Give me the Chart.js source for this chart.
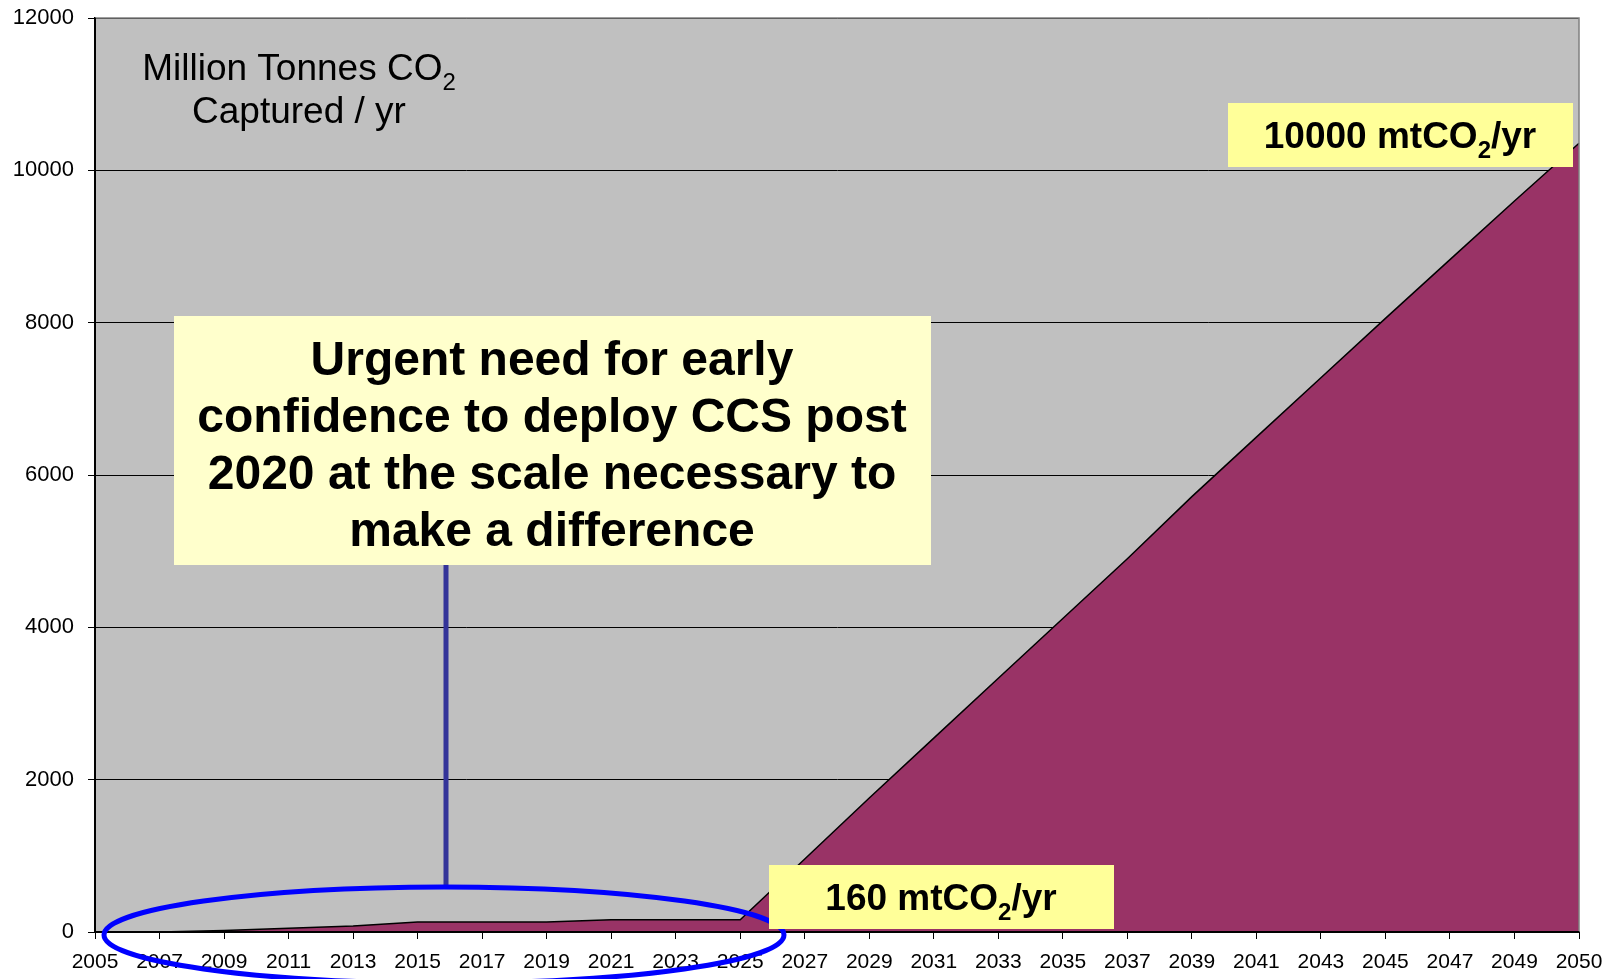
<!DOCTYPE html>
<html><head><meta charset="utf-8">
<script src="https://cdn.jsdelivr.net/npm/chart.js@4"></script>
<style>html,body{margin:0;padding:0;background:#fff;}canvas{display:block;}</style>
</head><body>
<canvas id="c" width="1608" height="979"></canvas>
<script>
// ---- data ----
const years = ['2005','2007','2009','2011','2013','2015','2017','2019','2021','2023','2025',
  '2027','2029','2031','2033','2035','2037','2039','2041','2043','2045','2047','2049','2050'];
const captured = [0,0,20,50,80,130,130,130,160,160,160,
  958,1759,2546,3331,4115,4900,5716,6497,7277,8056,8827,9597,10355];
const yMin = 0, yMax = 12000, yStep = 2000;
const unitTitleLine1 = ['Million Tonnes CO', '2'];
const unitTitleLine2 = 'Captured / yr';
const calloutLines = ['Urgent need for early', 'confidence to deploy CCS post', '2020 at the scale necessary to', 'make a difference'];
const endLabel = ['10000 mtCO', '2', '/yr'];
const startLabel = ['160 mtCO', '2', '/yr'];

const FONT = "'Liberation Sans', Arial, Helvetica, sans-serif";

function drawRich(ctx, parts, cx, baseY){
  let w = 0;
  parts.forEach(p => { ctx.font = p.font; p.w = ctx.measureText(p.t).width; w += p.w; });
  let x = cx - w/2;
  ctx.textAlign = 'left'; ctx.textBaseline = 'alphabetic';
  parts.forEach(p => { ctx.font = p.font; ctx.fillText(p.t, x, baseY + (p.dy||0)); x += p.w; });
}

const bgPlugin = {
  id: 'bg',
  beforeDraw(chart){
    const {ctx, chartArea:a} = chart;
    ctx.save();
    ctx.fillStyle = '#C0C0C0';
    ctx.fillRect(a.left, a.top, a.right - a.left, a.bottom - a.top);
    ctx.restore();
  },
  afterDatasetsDraw(chart){
    const {ctx, chartArea:a} = chart;
    ctx.save();
    ctx.strokeStyle = '#808080'; ctx.lineWidth = 1.5;
    ctx.beginPath();
    ctx.moveTo(a.left, a.top); ctx.lineTo(a.right, a.top); ctx.lineTo(a.right, a.bottom);
    ctx.stroke();
    ctx.strokeStyle = '#000'; ctx.lineWidth = 2;
    ctx.beginPath();
    ctx.moveTo(a.left, a.top); ctx.lineTo(a.left, a.bottom); ctx.lineTo(a.right, a.bottom);
    ctx.stroke();
    ctx.restore();
  }
};

const overlayPlugin = {
  id: 'overlay',
  afterDraw(chart){
    const ctx = chart.ctx;
    ctx.save();
    ctx.fillStyle = '#000';
    // unit title
    drawRich(ctx, [
      {t: unitTitleLine1[0], font: '37px ' + FONT},
      {t: unitTitleLine1[1], font: '24px ' + FONT, dy: 10}
    ], 299, 80);
    drawRich(ctx, [{t: unitTitleLine2, font: '37px ' + FONT}], 299, 123);

    // connector
    ctx.strokeStyle = '#333399'; ctx.lineWidth = 5;
    ctx.beginPath(); ctx.moveTo(446, 560); ctx.lineTo(446, 888); ctx.stroke();

    // callout box
    ctx.fillStyle = '#FFFFCC';
    ctx.fillRect(174, 316, 757, 249);
    ctx.fillStyle = '#000';
    const base = [375, 432, 489, 546];
    calloutLines.forEach((l, i) => drawRich(ctx, [{t: l, font: 'bold 48px ' + FONT}], 552, base[i]));

    // ellipse
    ctx.strokeStyle = '#0000FF'; ctx.lineWidth = 5;
    ctx.beginPath(); ctx.ellipse(444, 935, 340, 48, 0, 0, Math.PI*2); ctx.stroke();

    // value boxes
    ctx.fillStyle = '#FFFF99';
    ctx.fillRect(1228, 103, 345, 64);
    ctx.fillRect(769, 865, 345, 64);
    ctx.fillStyle = '#000';
    const mk = (arr) => [
      {t: arr[0], font: 'bold 37px ' + FONT},
      {t: arr[1], font: 'bold 24px ' + FONT, dy: 10},
      {t: arr[2], font: 'bold 37px ' + FONT}
    ];
    drawRich(ctx, mk(endLabel), 1400, 148);
    drawRich(ctx, mk(startLabel), 941, 910);
    ctx.restore();
  }
};

new Chart(document.getElementById('c'), {
  type: 'line',
  data: {
    labels: years,
    datasets: [{
      data: captured,
      fill: 'origin',
      backgroundColor: '#993366',
      borderColor: '#000',
      borderWidth: 1.5,
      tension: 0,
      pointRadius: 0,
      pointHoverRadius: 0
    }]
  },
  options: {
    responsive: false,
    animation: false,
    devicePixelRatio: 1,
    events: [],
    layout: {padding: {left: 0, right: 29, top: 18, bottom: 0}},
    plugins: {legend: {display: false}, tooltip: {enabled: false}, title: {display: false}},
    scales: {
      x: {
        type: 'category',
        offset: false,
        grid: {display: true, drawOnChartArea: false, drawTicks: true, tickLength: 7, color: '#000', lineWidth: 1},
        border: {display: true, color: '#000', width: 2},
        ticks: {autoSkip: false, maxRotation: 0, minRotation: 0, color: '#000', font: {family: FONT, size: 21}, padding: 11},
        afterFit: (axis) => { axis.height = 47; axis.paddingLeft = 0; axis.paddingRight = 0; }
      },
      y: {
        min: yMin, max: yMax,
        grid: {color: '#000', lineWidth: 1, drawTicks: true, tickLength: 7},
        border: {display: true, color: '#000', width: 2},
        ticks: {stepSize: yStep, color: '#000', font: {family: FONT, size: 22}, padding: 14,
          callback: (v) => String(v)},
        afterFit: (axis) => { axis.width = 95; axis.paddingTop = 0; axis.paddingBottom = 0; }
      }
    }
  },
  plugins: [bgPlugin, overlayPlugin]
});
</script>
</body></html>
